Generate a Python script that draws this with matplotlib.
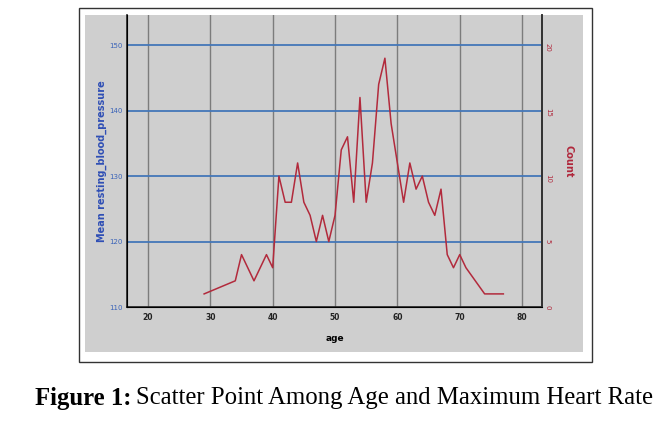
import matplotlib.pyplot as plt
from matplotlib.patches import Rectangle

# age distribution (count of patients per age)
ages = [29, 34, 35, 37, 38, 39, 40, 41, 42, 43, 44, 45, 46, 47, 48, 49, 50,
        51, 52, 53, 54, 55, 56, 57, 58, 59, 60, 61, 62, 63, 64, 65, 66, 67,
        68, 69, 70, 71, 74, 76, 77]
counts = [1, 2, 4, 2, 3, 4, 3, 10, 8, 8, 11, 8, 7, 5, 7, 5, 7,
          12, 13, 8, 16, 8, 11, 17, 19, 14, 11, 8, 11, 9, 10, 8, 7, 9,
          4, 3, 4, 3, 1, 1, 1]

bp_ticks = [110, 120, 130, 140, 150]
count_ticks = [0, 5, 10, 15, 20]
age_ticks = [20, 30, 40, 50, 60, 70, 80]

W, H = 667, 423
fig = plt.figure(figsize=(W / 100, H / 100), dpi=100)

# outer frame and grey panel (behind the axes)
fig.patches.append(Rectangle((79 / W, 1 - 362 / H), 513 / W, 354 / H,
                             transform=fig.transFigure, facecolor='white',
                             edgecolor='#333333', lw=1.0, zorder=-10))
fig.patches.append(Rectangle((85 / W, 1 - 352 / H), 498 / W, 337 / H,
                             transform=fig.transFigure, facecolor='#cfcfcf',
                             edgecolor='none', zorder=-9))

ax = fig.add_axes([127 / W, 1 - 307 / H, (542 - 127) / W, (307 - 15) / H])
ax.set_facecolor('none')
ax.set_xlim(16.63, 83.2)
ax.set_ylim(110, 154.6)
ax.set_xticks(age_ticks)
ax.set_yticks(bp_ticks)

for v in age_ticks:
    ax.axvline(v, color='#7c7c7c', lw=1.0, zorder=1)
for v in bp_ticks[1:]:
    ax.axhline(v, color='#4477b8', lw=1.3, zorder=1)

ax.spines['top'].set_visible(False)
for s in ['left', 'bottom', 'right']:
    ax.spines[s].set_color('#222222')
    ax.spines[s].set_linewidth(1.2)

ax.tick_params(axis='y', length=0, pad=3, labelsize=5, labelcolor='#3a63b8')
ax.tick_params(axis='x', length=0, pad=4, labelsize=5.5, labelcolor='#222222')
for lbl in ax.get_xticklabels():
    lbl.set_fontweight('bold')

ax.set_ylabel('Mean resting_blood_pressure', color='#2f4fb5',
              fontsize=7, fontweight='bold', labelpad=2)
ax.set_xlabel('age', fontsize=6.5, fontweight='bold', labelpad=9)

ax2 = ax.twinx()
ax2.set_ylim(0, 22.3)
ax2.set_yticks(count_ticks)
ax2.spines['top'].set_visible(False)
ax2.spines['right'].set_color('#333333')
ax2.spines['right'].set_linewidth(1.2)
ax2.tick_params(axis='y', length=0, pad=2, labelsize=5, labelcolor='#b0283c',
                labelrotation=-90)
ax2.plot(ages, counts, color='#b22a3c', lw=1.1, zorder=3)
ax2.set_ylabel('Count', color='#b0283c', fontsize=7, fontweight='bold',
               rotation=-90, labelpad=16)

# caption: bold prefix followed by regular text
cap_y = 1 - 398 / H
t1 = fig.text(35 / W, cap_y, 'Figure 1:', fontsize=17.8, fontweight='bold',
              family='Liberation Serif', va='center', ha='left')
fig.canvas.draw()
bb = t1.get_window_extent()
fig.text((bb.x1 + 5) / W, cap_y,
         'Scatter Point Among Age and Maximum Heart Rate',
         fontsize=17.8, family='Liberation Serif', va='center', ha='left')

fig.savefig('out.png', dpi=100)
